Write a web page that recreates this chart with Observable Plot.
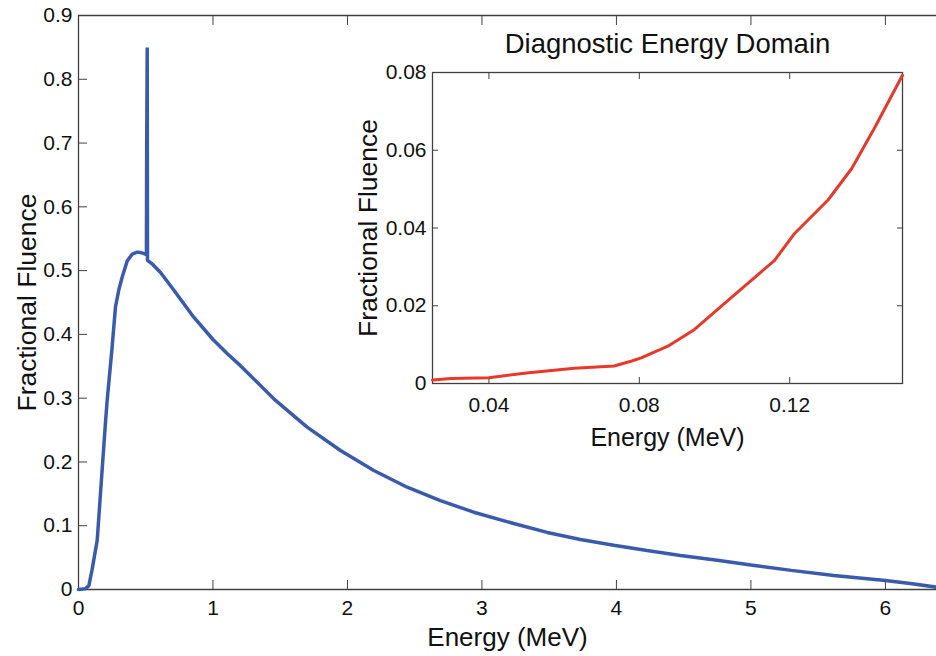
<!DOCTYPE html>
<html><head><meta charset="utf-8">
<script src="https://cdn.jsdelivr.net/npm/d3@7"></script>
<script src="https://cdn.jsdelivr.net/npm/@observablehq/plot@0.6"></script>
<style>
html,body{margin:0;padding:0;background:#fff;overflow:hidden;}
#wrap{position:relative;width:936px;height:656px;}
#main{position:absolute;left:0;top:0;}
#inset{position:absolute;left:340px;top:20px;}
</style></head><body>
<div id="wrap"><div id="main"></div><div id="inset"></div></div>
<script>
// ---- Main spectrum ----
const mainEnergy  = [0, 0.05, 0.077, 0.1, 0.139, 0.16, 0.18, 0.2, 0.213, 0.25, 0.275, 0.3, 0.325, 0.362, 0.4, 0.436, 0.47, 0.505, 0.507, 0.511, 0.513, 0.55, 0.61, 0.7, 0.857, 1.0, 1.105, 1.204, 1.452, 1.70, 1.948, 2.196, 2.444, 2.691, 2.939, 3.236, 3.485, 3.732, 3.98, 4.228, 4.476, 4.75, 5.0, 5.3, 5.616, 6.0, 6.2, 6.38];
const mainFluence = [0, 0.001, 0.006, 0.03, 0.077, 0.14, 0.2, 0.26, 0.296, 0.38, 0.443, 0.47, 0.49, 0.515, 0.526, 0.529, 0.528, 0.525, 0.69, 0.85, 0.516, 0.51, 0.497, 0.472, 0.427, 0.392, 0.37, 0.351, 0.299, 0.2545, 0.218, 0.1866, 0.1604, 0.1395, 0.1212, 0.1035, 0.0895, 0.0785, 0.0695, 0.0611, 0.0533, 0.046, 0.0385, 0.03, 0.022, 0.0141, 0.009, 0.0036];
const mainXDomain = [0, 6.38];
const mainYDomain = [0, 0.9];
const mainXTicks = [0, 1, 2, 3, 4, 5, 6];
const mainYTicks = [0, 0.1, 0.2, 0.3, 0.4, 0.5, 0.6, 0.7, 0.8, 0.9];
const mainXLabel = "Energy (MeV)";
const mainYLabel = "Fractional Fluence";

// ---- Inset: diagnostic energy domain ----
const insetEnergy  = [0.025, 0.03, 0.04, 0.05, 0.0627, 0.0733, 0.078, 0.0805, 0.0876, 0.0947, 0.1036, 0.116, 0.1213, 0.1302, 0.1365, 0.1427, 0.15];
const insetFluence = [0.0009, 0.0013, 0.0015, 0.0027, 0.0039, 0.0045, 0.0058, 0.0066, 0.0096, 0.0139, 0.0214, 0.0317, 0.0386, 0.0472, 0.0553, 0.066, 0.0793];
const insetXDomain = [0.025, 0.15];
const insetYDomain = [0, 0.08];
const insetXTicks = [0.04, 0.08, 0.12];
const insetYTicks = [0, 0.02, 0.04, 0.06, 0.08];
const insetTitle = "Diagnostic Energy Domain";
const insetXLabel = "Energy (MeV)";
const insetYLabel = "Fractional Fluence";

const FONT = "'Liberation Sans', Arial, Helvetica, sans-serif";
const AX = "#404040";
const mainData = mainEnergy.map((e, i) => ({e, f: mainFluence[i]}));
const insetData = insetEnergy.map((e, i) => ({e, f: insetFluence[i]}));

const fmt1 = d => d === 0 ? "0" : d.toFixed(1);
const fmt2 = d => d === 0 ? "0" : d.toFixed(2);

const main = Plot.plot({
  width: 936, height: 656,
  marginLeft: 78, marginRight: 0, marginTop: 15, marginBottom: 67,
  style: {fontFamily: FONT, fontSize: "21px", background: "transparent", color: "#111"},
  x: {domain: mainXDomain},
  y: {domain: mainYDomain},
  marks: [
    Plot.ruleY([mainYDomain[0]], {stroke: AX, strokeWidth: 1.3}),
    Plot.ruleY([mainYDomain[1]], {stroke: AX, strokeWidth: 1.3}),
    Plot.ruleX([mainXDomain[0]], {stroke: AX, strokeWidth: 1.3}),
    Plot.axisX(mainXTicks, {anchor: "bottom", tickSize: -9, tickPadding: 20, tickFormat: d => String(d), stroke: AX, fontSize: 21, label: null}),
    Plot.axisX(mainXTicks, {anchor: "top", tickSize: -9, tickFormat: () => "", stroke: AX, label: null}),
    Plot.axisY(mainYTicks, {anchor: "left", tickSize: -9, tickPadding: 15, tickFormat: fmt1, stroke: AX, fontSize: 21, label: null}),
    Plot.line(mainData, {x: "e", y: "f", stroke: "#3a5aab", strokeWidth: 3.5, strokeLinejoin: "miter"}),
    Plot.text([mainXLabel], {text: d => d, frameAnchor: "bottom", dy: 48, fontSize: 26, textAnchor: "middle", lineAnchor: "middle", fill: "#111"}),
    Plot.text([mainYLabel], {text: d => d, frameAnchor: "left", dx: -51, rotate: -90, fontSize: 26.5, textAnchor: "middle", lineAnchor: "middle", fill: "#111"})
  ]
});
document.getElementById("main").appendChild(main);

const inset = Plot.plot({
  width: 580, height: 440,
  marginLeft: 92, marginRight: 18, marginTop: 52, marginBottom: 77,
  style: {fontFamily: FONT, fontSize: "21px", background: "transparent", color: "#111"},
  x: {domain: insetXDomain},
  y: {domain: insetYDomain},
  marks: [
    Plot.frame({stroke: AX, strokeWidth: 1.3}),
    Plot.axisX(insetXTicks, {anchor: "bottom", tickSize: -6, tickPadding: 20, tickFormat: fmt2, stroke: AX, fontSize: 21, label: null}),
    Plot.axisX(insetXTicks, {anchor: "top", tickSize: -6, tickFormat: () => "", stroke: AX, label: null}),
    Plot.axisY(insetYTicks, {anchor: "left", tickSize: -6, tickPadding: 12, tickFormat: fmt2, stroke: AX, fontSize: 21, label: null}),
    Plot.axisY(insetYTicks, {anchor: "right", tickSize: -6, tickFormat: () => "", stroke: AX, label: null}),
    Plot.line(insetData, {x: "e", y: "f", stroke: "#e53a2b", strokeWidth: 3}),
    Plot.text([insetTitle], {text: d => d, frameAnchor: "top", dy: -28, fontSize: 27.5, textAnchor: "middle", lineAnchor: "middle", fill: "#111"}),
    Plot.text([insetXLabel], {text: d => d, frameAnchor: "bottom", dy: 54, fontSize: 25, textAnchor: "middle", lineAnchor: "middle", fill: "#111"}),
    Plot.text([insetYLabel], {text: d => d, frameAnchor: "left", dx: -64, rotate: -90, fontSize: 26.5, textAnchor: "middle", lineAnchor: "middle", fill: "#111"})
  ]
});
document.getElementById("inset").appendChild(inset);
</script>
</body></html>
